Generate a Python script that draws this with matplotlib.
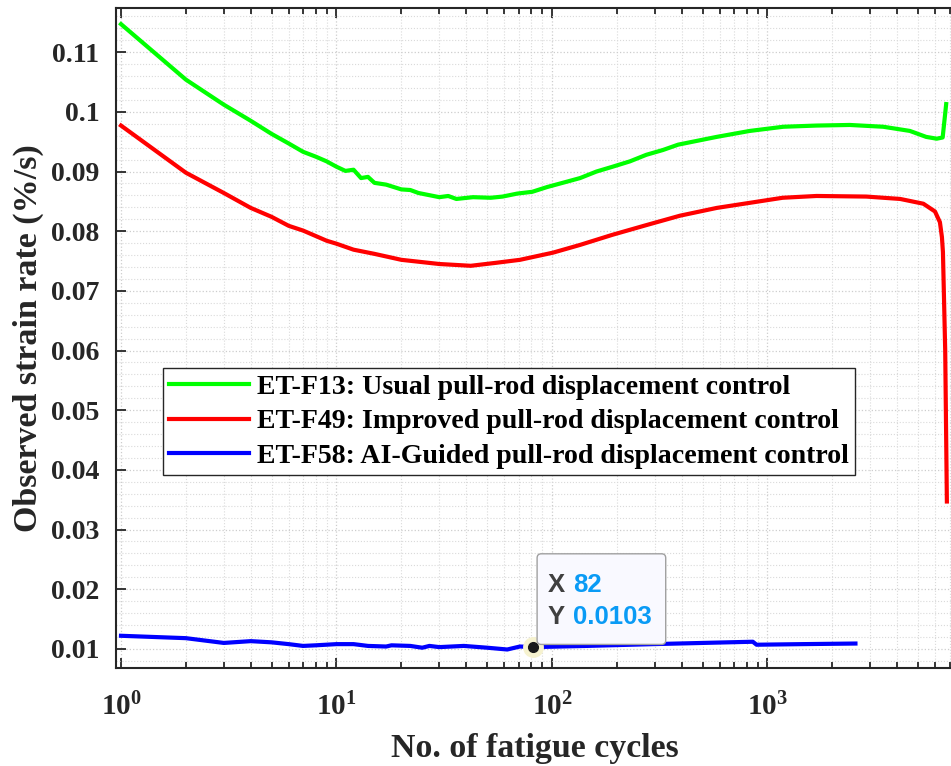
import numpy as np
import matplotlib
matplotlib.use('Agg')
import matplotlib.pyplot as plt
from matplotlib.patches import FancyBboxPatch
from matplotlib.ticker import LogLocator, FixedLocator, MultipleLocator, FormatStrFormatter
from matplotlib.offsetbox import TextArea, HPacker, VPacker, AnnotationBbox, DrawingArea

plt.rcParams['font.family'] = 'Liberation Serif'
plt.rcParams['font.weight'] = 'bold'
plt.rcParams['mathtext.fontset'] = 'custom'
plt.rcParams['mathtext.rm'] = 'Liberation Serif:bold'
plt.rcParams['mathtext.default'] = 'rm'

# ET-F13 (green)
g_n = [1, 2, 3, 4, 5, 6, 7, 8, 9, 10, 11, 12, 13, 14, 15, 17, 20, 22, 24, 30, 33, 36,
       43, 52, 59, 69, 81, 95, 112, 135, 161, 191, 230, 274, 327, 385, 581, 828, 1185,
       1690, 2410, 3446, 4580, 5450, 6100, 6500, 6750]
g_v = [0.1147, 0.1054, 0.1012, 0.0985, 0.0963, 0.0947, 0.0933, 0.0925, 0.0917, 0.0908,
       0.0901, 0.0903, 0.0889, 0.0891, 0.0881, 0.0878, 0.0870, 0.0869, 0.0864, 0.0857,
       0.0859, 0.0854, 0.0857, 0.0856, 0.0858, 0.0863, 0.0866, 0.0874, 0.0881, 0.0889,
       0.0900, 0.0908, 0.0917, 0.0928, 0.0936, 0.0945, 0.0958, 0.0968, 0.0975, 0.0977,
       0.0978, 0.0975, 0.0968, 0.0958, 0.0955, 0.0957, 0.1013]

# ET-F49 (red)
r_n = [1, 2, 3, 4, 5, 6, 7, 8, 9, 10, 12, 15, 20, 30, 42, 55, 71, 101, 135, 191, 273,
       393, 582, 1176, 1689, 2875, 4131, 5290, 5990, 6313, 6450, 6520, 6680, 6800]
r_v = [0.0977, 0.0898, 0.0864, 0.0839, 0.0824, 0.0809, 0.0801, 0.0792, 0.0784, 0.0779,
       0.0769, 0.0762, 0.0752, 0.0745, 0.0742, 0.0747, 0.0752, 0.0764, 0.0777, 0.0794,
       0.0810, 0.0826, 0.0839, 0.0856, 0.0859, 0.0858, 0.0854, 0.0846, 0.0833, 0.0815,
       0.0790, 0.0765, 0.0600, 0.0347]

# ET-F58 (blue)
b_n = [1, 2, 3, 4, 5, 6, 7, 8, 10, 12, 14, 17, 18, 22, 25, 27, 30, 39, 50, 62, 71, 82,
       145, 294, 500, 855, 890, 1450, 2560]
b_v = [0.0122, 0.0118, 0.0110, 0.0113, 0.0111, 0.0108, 0.0105, 0.0106, 0.0108, 0.0108,
       0.0105, 0.0104, 0.0106, 0.0105, 0.0102, 0.0105, 0.0103, 0.0105, 0.0102, 0.0099,
       0.0104, 0.0103, 0.0105, 0.0108, 0.0110, 0.0112, 0.0107, 0.0108, 0.0109]

labels = ['ET-F13: Usual pull-rod displacement control',
          'ET-F49: Improved pull-rod displacement control',
          'ET-F58: AI-Guided pull-rod displacement control']

tip_x = 82
tip_y = 0.0103

y_ticks = [0.01, 0.02, 0.03, 0.04, 0.05, 0.06, 0.07, 0.08, 0.09, 0.1, 0.11]

fig = plt.figure(figsize=(9.51, 7.66), dpi=100)
ax = fig.add_axes([116/951, 98/766, 837/951, 660/766])

lw = 3.0
ax.plot(g_n, g_v, color='#00ff00', linewidth=lw, label=labels[0], zorder=3)
ax.plot(r_n, r_v, color='#ff0000', linewidth=lw, label=labels[1], zorder=3)
ax.plot(b_n, b_v, color='#0000ff', linewidth=lw, label=labels[2], zorder=3)

ax.set_xscale('log')
ax.set_xlim(0.948, 7260)
ax.set_ylim(0.0068, 0.1174)

ax.xaxis.set_major_locator(LogLocator(base=10, numticks=10))
ax.xaxis.set_minor_locator(LogLocator(base=10, subs=np.arange(2, 10), numticks=20))
ax.yaxis.set_major_locator(FixedLocator(y_ticks))
ax.yaxis.set_major_formatter(FormatStrFormatter('%g'))
ax.yaxis.set_minor_locator(MultipleLocator(0.002))

ax.grid(True, which='major', color='#cdcdcd', linestyle=':', linewidth=0.9)
ax.grid(True, which='minor', color='#dadada', linestyle=':', linewidth=0.8)
ax.set_axisbelow(True)

ax.tick_params(axis='both', which='both', direction='in', colors='#262626', width=1.3)
ax.tick_params(axis='x', which='major', length=7, top=True, labelsize=21, pad=18)
ax.tick_params(axis='x', which='minor', length=4, top=True)
ax.tick_params(axis='y', which='major', length=7, labelsize=20, pad=12)
ax.tick_params(axis='y', which='minor', length=0)

for side in ['left', 'bottom', 'top']:
    ax.spines[side].set_color('#262626')
    ax.spines[side].set_linewidth(1.5)
ax.spines['right'].set_visible(False)

ax.set_xlabel('No. of fatigue cycles', fontsize=24.4, fontweight='bold', color='#262626', labelpad=8)
ax.set_ylabel('Observed strain rate (%/s)', fontsize=24.5, fontweight='bold', color='#262626', labelpad=5)

leg = ax.legend(loc='upper left', bbox_to_anchor=(163/951, 1 - 368/766), bbox_transform=fig.transFigure,
                fontsize=20.1, frameon=True, fancybox=False, edgecolor='#262626', framealpha=1,
                handlelength=2.85, handletextpad=0.29, borderpad=0.22, labelspacing=0.33,
                borderaxespad=0)
leg.get_frame().set_linewidth(1.0)

# data tip: marker
ax.plot([tip_x], [tip_y], 'o', markersize=14, color='#f6f2cf', zorder=5)
ax.plot([tip_x], [tip_y], 'o', markersize=7, color='#1a1a1a', zorder=6)

# data tip: frame (130 x 92 px)
pt = 72 / 100
frame = DrawingArea(130 * pt, 92 * pt, 0, 0)
frame.add_artist(FancyBboxPatch((0.5, 0.5), 130 * pt - 1, 92 * pt - 1,
                                boxstyle='round,pad=0,rounding_size=3',
                                facecolor='#f9f9ff', edgecolor='#a0a0a0', linewidth=1.0))
ab_frame = AnnotationBbox(frame, (tip_x, tip_y), xybox=(3 * pt, 2 * pt), xycoords='data',
                          boxcoords='offset points', box_alignment=(0, 0), frameon=False, pad=0)
ab_frame.set_zorder(7)
ax.add_artist(ab_frame)

# data tip: text
tfont = dict(family='Liberation Sans', size=18.5)
row_x = HPacker(children=[TextArea('X', textprops=dict(color='#404040', **tfont)),
                          TextArea(str(tip_x), textprops=dict(color='#0a9bf5', weight='bold', **tfont))],
                align='baseline', pad=0, sep=6)
row_y = HPacker(children=[TextArea('Y', textprops=dict(color='#404040', **tfont)),
                          TextArea('%.4f' % tip_y, textprops=dict(color='#0a9bf5', weight='bold', **tfont))],
                align='baseline', pad=0, sep=6)
box = VPacker(children=[row_x, row_y], align='left', pad=0, sep=6.2)
ab = AnnotationBbox(box, (tip_x, tip_y), xybox=(14 * pt, 18 * pt), xycoords='data',
                    boxcoords='offset points', box_alignment=(0, 0), frameon=False, pad=0)
ab.set_zorder(8)
ax.add_artist(ab)

fig.savefig('out.png', dpi=100)
